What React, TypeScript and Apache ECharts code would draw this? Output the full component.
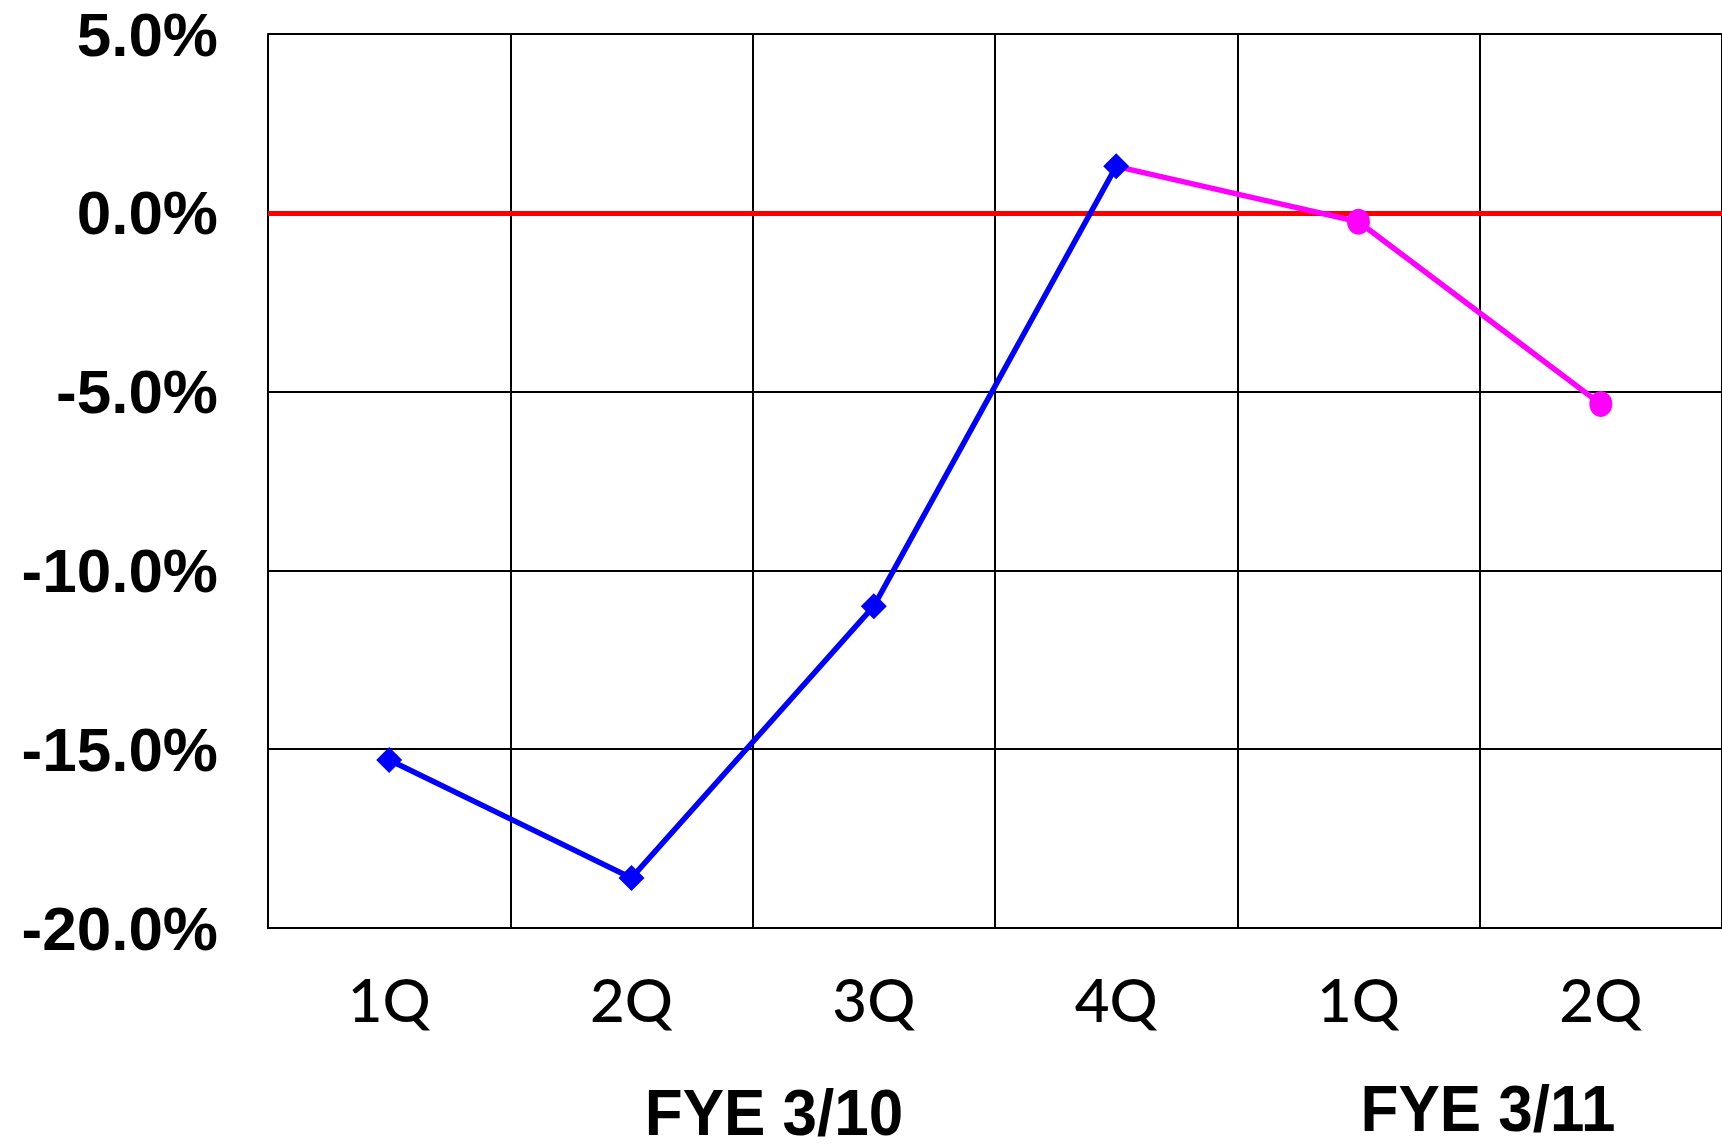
import React, { useEffect, useRef } from "react";
import * as echarts from "echarts";

// Quarter labels along the bottom axis
const quarters = ["1Q", "2Q", "3Q", "4Q", "1Q", "2Q"];
// Year-over-year change (%) for FYE 3/10 quarters (blue diamonds)
const fy10Values: (number | null)[] = [-15.3, -18.6, -11.0, 1.3, null, null];
// FYE 3/11 quarters (magenta circles), linked from FYE 3/10 4Q
const fy11Values: (number | null)[] = [null, null, null, 1.3, -0.25, -5.35];
// Fiscal year captions under the quarter labels
const fiscalYears = ["FYE 3/10", "FYE 3/11"];
// Y axis range and step
const yMin = -20;
const yMax = 5;
const yStep = 5;

export default function App() {
  const ref = useRef<HTMLDivElement>(null);

  useEffect(() => {
    if (!ref.current) return;
    const chart = echarts.init(ref.current, null, { renderer: "svg" });

    const gridLeft = 268;
    const gridTop = 34;
    const gridWidth = 1463;
    const gridHeight = 894;
    const captionFont = "bold 62px 'Liberation Sans', Arial, sans-serif";

    chart.setOption({
      animation: false,
      backgroundColor: "#ffffff",
      grid: { left: gridLeft, top: gridTop, width: gridWidth, height: gridHeight },
      xAxis: {
        type: "category",
        data: quarters,
        boundaryGap: true,
        axisLine: { show: true, onZero: false, lineStyle: { color: "#000", width: 2 } },
        axisTick: { show: false },
        splitLine: { show: true, interval: 0, lineStyle: { color: "#000", width: 2 } },
        axisLabel: {
          interval: 0,
          margin: 41,
          color: "#000",
          fontFamily: "Lato",
          fontWeight: 500,
          fontSize: 60,
        },
      },
      yAxis: {
        type: "value",
        min: yMin,
        max: yMax,
        interval: yStep,
        axisLine: { show: true, lineStyle: { color: "#000", width: 2 } },
        axisTick: { show: false },
        splitLine: { show: true, lineStyle: { color: "#000", width: 2 } },
        axisLabel: {
          margin: 50,
          color: "#000",
          fontFamily: "Liberation Sans, Arial, sans-serif",
          fontWeight: "bold",
          fontSize: 62,
          formatter: (v: number) => v.toFixed(1) + "%",
        },
      },
      series: [
        {
          type: "line",
          data: fy11Values.map((v, i) =>
            i === 3 ? { value: v, symbol: "none" } : v
          ),
          connectNulls: false,
          symbol: "circle",
          symbolSize: [23, 26],
          lineStyle: { color: "#ff00ff", width: 5.5 },
          itemStyle: { color: "#ff00ff" },
          z: 3,
          markLine: {
            silent: true,
            symbol: "none",
            label: { show: false },
            lineStyle: { color: "#ff0000", width: 5, type: "solid" },
            data: [{ yAxis: 0 }],
            z: 1,
          },
        },
        {
          type: "line",
          data: fy10Values,
          symbol: "diamond",
          symbolSize: 26,
          lineStyle: { color: "#0000ff", width: 5.5 },
          itemStyle: { color: "#0000ff" },
          z: 4,
        },
      ],
      graphic: [
        {
          type: "text",
          x: 774,
          y: 1112,
          scaleY: 1.05,
          style: {
            text: fiscalYears[0],
            fill: "#000",
            font: captionFont,
            align: "center",
            verticalAlign: "middle",
          },
        },
        {
          type: "text",
          x: 1488,
          y: 1108,
          scaleY: 1.05,
          style: {
            text: fiscalYears[1],
            fill: "#000",
            font: captionFont,
            align: "center",
            verticalAlign: "middle",
          },
        },
      ],
    });

    return () => chart.dispose();
  }, []);

  return (
    <div
      ref={ref}
      style={{ position: "fixed", left: 0, top: 0, width: 1722, height: 1148 }}
    />
  );
}
